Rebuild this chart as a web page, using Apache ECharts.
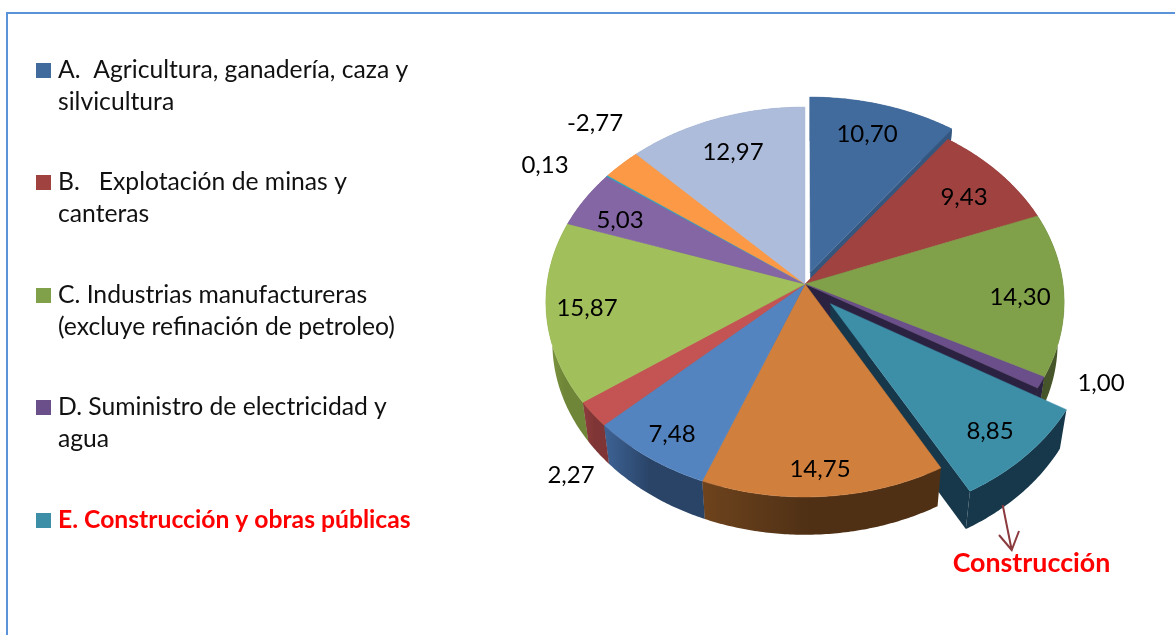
<!DOCTYPE html>
<html>
<head>
<meta charset="utf-8">
<title>Construcción</title>
<script src="https://cdn.jsdelivr.net/npm/echarts@6/dist/echarts.min.js"></script>
<style>
html,body{margin:0;padding:0;background:#fff;}
#main{width:1175px;height:635px;}
</style>
</head>
<body>
<div id="main"></div>
<script>
// valores de cada sector, en sentido horario desde las 12
const sectorValues = [10.70, 9.43, 14.30, 1.00, 8.85, 14.75, 7.48, 2.27, 15.87, 5.03, 0.13, -2.77, 12.97];
const legendNames = [
	'A.  Agricultura, ganadería, caza y\nsilvicultura',
	'B.   Explotación de minas y\ncanteras',
	'C. Industrias manufactureras\n(excluye refinación de petroleo)',
	'D. Suministro de electricidad y\nagua',
	'E. Construcción y obras públicas'
];
const calloutText = 'Construcción';

// estilos
const topColors = ['#416a9d','#9f4240','#81a04a','#6a4f8a','#3d8fa8','#d07f3c','#5484c0','#c45453','#a1bf5b','#8566a5','#2fa8c6','#fb9946','#adbcdb'];
const wallColors = [
	['#35577f','#35577f'],['#7a3230','#7a3230'],['#3d4a20','#47562a'],['#2b2140','#2b2140'],['#17384a','#17384a'],
	['#6e431d','#4f3015'],['#3d6395','#2a4468'],['#8f3d3d','#7f3535'],['#7f9742','#6f8638'],
	['#66507f','#66507f'],['#238','#238'],['#c0753a','#c0753a'],['#8a96b0','#8a96b0']
];
// desplazamiento del sector en el plano del pastel
const explode = {0:0.065, 4:0.14};
// posicion de las etiquetas en pantalla
const labelSpots = [[867,134],[964,197],[1020,297],[1101,383],[990,431],[820,469],[672,434],[571,475],[587,308],[620,220],[545,165],[595,123],[733,152]];
const legendRows = [70,182,295,407,520];

// camara: circulo unitario proyectado con perspectiva
const cx = 805, cy = 284, sx = 258, sy = 193.3, persp = 0.0923;
const depth = 41, shrinkX = 0.975, shrinkY = 0.985;
const font = 'Lato, Carlito, Calibri, sans-serif';

const total = sectorValues.reduce((a,b)=>a+Math.abs(b),0);
const angles = [];
let acc = 0;
sectorValues.forEach(v=>{
	let a0 = acc/total*Math.PI*2;
	acc += Math.abs(v);
	angles.push([a0, acc/total*Math.PI*2]);
});

function project(u,v){
	let d = 1-persp*v;
	return [cx+sx*u/d, cy+sy*v/d];
}
function lower(p){
	return [cx+(p[0]-cx)*shrinkX, cy+(p[1]-cy)*shrinkY+depth];
}
function offsetOf(i){
	let e = explode[i]||0, m = (angles[i][0]+angles[i][1])/2;
	return [e*Math.sin(m), -e*Math.cos(m)];
}
function rimPoint(i,a){
	let o = offsetOf(i);
	return project(Math.sin(a)+o[0], -Math.cos(a)+o[1]);
}
function rim(i){
	let pts = [], a0 = angles[i][0], a1 = angles[i][1];
	let n = Math.max(2,Math.ceil((a1-a0)/0.01));
	for(let k=0;k<=n;k++){
		pts.push(rimPoint(i,a0+(a1-a0)*k/n));
	}
	return pts;
}
function apex(i){
	let o = offsetOf(i);
	return project(o[0],o[1]);
}

function renderWall(params,api){
	let i = api.value(0);
	let pts = rim(i), c = apex(i), kids = [];
	let fill = new echarts.graphic.LinearGradient(0,0,1,0,[{offset:0,color:wallColors[i][0]},{offset:0.45,color:wallColors[i][1]},{offset:1,color:wallColors[i][1]}]);
	// caras radiales, solo las que miran al frente
	let faces = [[pts[0],angles[i][0]-Math.PI/2],[pts[pts.length-1],angles[i][1]+Math.PI/2]];
	faces.forEach(f=>{
		if(-Math.cos(f[1])>0){
			kids.push({type:'polygon',shape:{points:[c,f[0],lower(f[0]),lower(c)]},style:{fill:wallColors[i][1]}});
		}
	});
	kids.push({type:'polygon',shape:{points:pts.concat(pts.slice().reverse().map(lower))},style:{fill:fill}});
	return {type:'group',silent:true,children:kids};
}
function renderTop(params,api){
	let i = api.value(0);
	let c = topColors[i];
	return {type:'polygon',silent:true,shape:{points:[apex(i)].concat(rim(i))},style:{fill:c,stroke:c,lineWidth:0.5}};
}
function renderLabel(params,api){
	let i = api.value(0), v = api.value(1);
	return {type:'text',silent:true,x:labelSpots[i][0],y:labelSpots[i][1],style:{text:v.toFixed(2).replace('.',','),font:'24px '+font,fill:'#000',align:'center',verticalAlign:'middle'}};
}

// orden de pintado: primero lo de atras
const wallOrder = [0,12,11,10,9,8,1,2,3,4,7,6,5];
const topOrder = [0,1,2,3,4,5,6,7,8,9,10,11,12];

const legendGraphic = [];
legendNames.forEach((name,i)=>{
	let y = legendRows[i], hot = i==4;
	legendGraphic.push({type:'rect',silent:true,shape:{x:36,y:y-7,width:15,height:15},style:{fill:topColors[i]}});
	legendGraphic.push({type:'text',silent:true,x:58,y:y-16,style:{text:name,font:(hot?'bold ':'')+'24.7px '+font,fill:hot?'#f00':'#111',lineHeight:32,verticalAlign:'top'}});
});

const myChart = echarts.init(document.getElementById('main'),null,{renderer:'canvas'});
myChart.setOption({
	animation:false,
	backgroundColor:'#fff',
	graphic:[
		{type:'polyline',silent:true,shape:{points:[[7,635],[7,13],[1175,13]]},style:{stroke:'#5b93d8',lineWidth:2,fill:null}},
		...legendGraphic,
		{type:'polyline',silent:true,z:20,shape:{points:[[1002.7,505],[1011.7,550]]},style:{stroke:'#8b3a3e',lineWidth:2,fill:null}},
		{type:'polyline',silent:true,z:20,shape:{points:[[999,535],[1011.7,550],[1019,531]]},style:{stroke:'#8b3a3e',lineWidth:2,fill:null}},
		{type:'text',silent:true,z:20,x:1031.5,y:563,style:{text:calloutText,font:'bold 26.8px '+font,fill:'#f00',align:'center',verticalAlign:'middle'}}
	],
	series:[
		{type:'custom',coordinateSystem:'none',renderItem:renderWall,data:wallOrder.map(i=>[i,sectorValues[i]])},
		{type:'custom',coordinateSystem:'none',renderItem:renderTop,data:topOrder.map(i=>[i,sectorValues[i]])},
		{type:'custom',coordinateSystem:'none',renderItem:renderLabel,data:sectorValues.map((v,i)=>[i,v])}
	]
});
</script>
</body>
</html>
